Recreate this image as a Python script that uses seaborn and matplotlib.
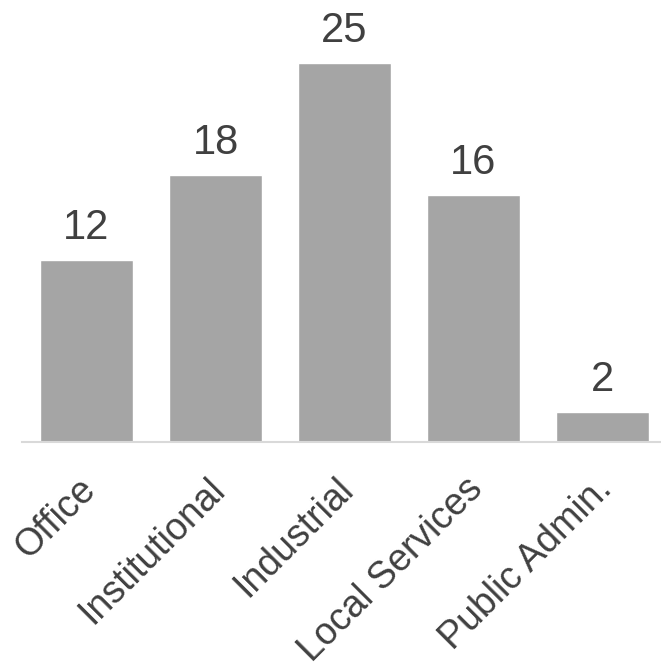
import matplotlib
matplotlib.use("Agg")
import matplotlib.pyplot as plt
import seaborn as sns
import pandas as pd

# Data (bar heights, labels as printed)
categories = ["Office", "Institutional", "Industrial", "Local Services", "Public Admin."]
counts = [12, 17.6, 25, 16.3, 2]
count_labels = ["12", "18", "25", "16", "2"]

df = pd.DataFrame({"category": categories, "count": counts})

sns.set_style("white")
plt.rcParams["font.family"] = ["Liberation Sans", "DejaVu Sans"]

fig = plt.figure(figsize=(6.61, 6.63), dpi=100)
ax = fig.add_axes([22 / 661, 221 / 663, 645 / 661, 442 / 663])

sns.barplot(data=df, x="category", y="count", color="#a5a5a5", saturation=1,
            width=0.72, ax=ax)

ax.bar_label(ax.containers[0], labels=count_labels, fontsize=30,
             color="#404040", padding=8.5)

ax.set_xlim(-0.5, 4.5)
ax.set_ylim(0, 29.15)
ax.set_xlabel("")
ax.set_ylabel("")
ax.set_yticks([])
ax.set_xticklabels([])
ax.tick_params(axis="x", length=0)
for side in ["top", "left", "right"]:
    ax.spines[side].set_visible(False)
ax.spines["bottom"].set_color("#d9d9d9")
ax.spines["bottom"].set_linewidth(1.5)

# rotated category labels
for i, cat in enumerate(categories):
    ax.annotate(cat, xy=(i, 0), xycoords=("data", "axes fraction"),
                xytext=(-9, -29), textcoords="offset pixels",
                rotation=45, ha="right", va="top", rotation_mode="anchor",
                fontsize=27, color="#404040", annotation_clip=False)

fig.savefig("out.png", dpi=100)
